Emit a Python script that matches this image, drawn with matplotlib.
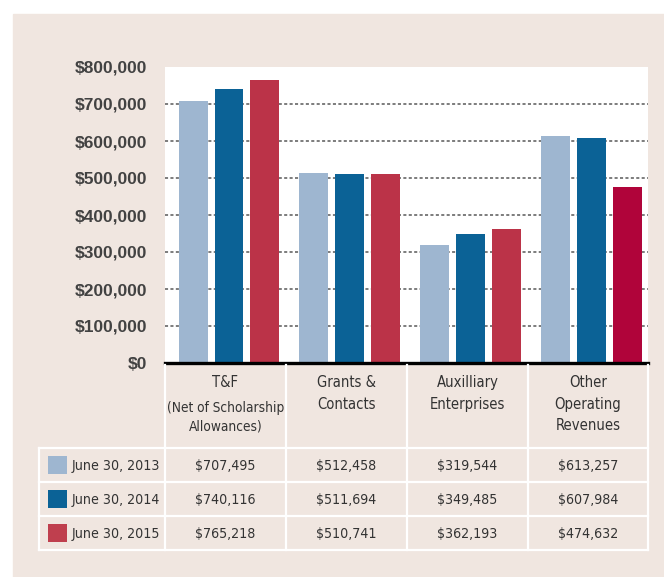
import os
import matplotlib
matplotlib.use('Agg')
import matplotlib.pyplot as plt
from matplotlib import font_manager
from matplotlib.patches import Rectangle
import numpy as np

# --- data ---
categories = ["T&F", "Grants &\nContacts", "Auxilliary\nEnterprises", "Other\nOperating\nRevenues"]
cat_notes = ["(Net of Scholarship\nAllowances)", "", "", ""]
series_names = ["June 30, 2013", "June 30, 2014", "June 30, 2015"]
fy2013 = [707495, 512458, 319544, 613257]
fy2014 = [740116, 511694, 349485, 607984]
fy2015 = [765218, 510741, 362193, 474632]
y_ticks = [0, 100000, 200000, 300000, 400000, 500000, 600000, 700000, 800000]

# --- style ---
W, H = 664, 577
BG = '#f0e6e0'
TXT = '#333333'
C13 = '#9eb6d0'
C14 = '#0b6296'
C15 = '#bb3348'
C15_bars = [C15, C15, C15, '#b0043a']  # last bar is a deeper red in the original


def narrow_font():
    # look for a condensed face on disk (Liberation Sans Narrow, DejaVu Sans Condensed)
    files = {os.path.basename(f.fname): f.fname for f in font_manager.fontManager.ttflist}
    if 'LiberationSansNarrow-Regular.ttf' in files:
        return font_manager.FontProperties(fname=files['LiberationSansNarrow-Regular.ttf']), 1.08
    if 'DejaVuSansCondensed.ttf' in files:
        return font_manager.FontProperties(fname=files['DejaVuSansCondensed.ttf']), 1.0
    return font_manager.FontProperties(family='Liberation Sans'), 0.95


NFONT, NSCALE = narrow_font()


def nprops(size):
    p = NFONT.copy()
    p.set_size(size * NSCALE)
    return p


# pixel layout
ax_left, ax_right, ax_top, ax_bottom = 165, 648, 67, 363
col_edges = [165, 286, 407, 528, 648]
row_edges = [363, 448, 482, 516, 550]
legend_left = 39

fig = plt.figure(figsize=(W / 100, H / 100), dpi=100)
fig.patch.set_facecolor('white')
fig.add_artist(Rectangle((13 / W, 0), 1 - 13 / W, (H - 14) / H,
                         transform=fig.transFigure, color=BG, zorder=0))

# --- bar chart ---
ax = fig.add_axes([ax_left / W, (H - ax_bottom) / H,
                   (ax_right - ax_left) / W, (ax_bottom - ax_top) / H])
ax.set_facecolor('white')
x = np.arange(len(categories)) + 0.5 + 0.03
bw, step = 0.24, 0.2975
ax.bar(x - step, fy2013, width=bw, color=C13, zorder=3)
ax.bar(x, fy2014, width=bw, color=C14, zorder=3)
ax.bar(x + step, fy2015, width=bw, color=C15_bars, zorder=3)
ax.set_xlim(0, len(categories))
ax.set_ylim(0, 800000)
ax.hlines(y_ticks[1:-1], 0, len(categories), colors='#727272', lw=1.3,
          linestyles=(0, (1.7, 1.3)), zorder=1)
ax.axhline(0, color='black', lw=2.4, zorder=4, clip_on=False)
for s in ax.spines.values():
    s.set_visible(False)
ax.set_xticks([])
ax.set_yticks(y_ticks)
tick_font = font_manager.FontProperties(family='Liberation Sans', weight='bold', size=12.5)
ax.set_yticklabels([f"${v:,}" for v in y_ticks], fontproperties=tick_font, color='#424242')
ax.tick_params(axis='y', length=0, pad=13)

# --- table below ---
tab = fig.add_axes([0, 0, 1, 1], zorder=5)
tab.set_xlim(0, W)
tab.set_ylim(H, 0)
tab.axis('off')

lw = 1.6
for xe in col_edges:
    tab.plot([xe, xe], [ax_bottom + 2, row_edges[-1]], color='white', lw=lw)
tab.plot([legend_left, legend_left], [row_edges[1], row_edges[-1]], color='white', lw=lw)
for ye in row_edges[1:]:
    tab.plot([legend_left, col_edges[-1]], [ye, ye], color='white', lw=lw)

centers = [(a + b) / 2 for a, b in zip(col_edges[:-1], col_edges[1:])]
for cx, cat, note in zip(centers, categories, cat_notes):
    tab.text(cx, 375, cat, ha='center', va='top', fontproperties=nprops(10.6),
             color=TXT, linespacing=1.56)
    if note:
        tab.text(cx, 401, note, ha='center', va='top', fontproperties=nprops(9.8),
                 color=TXT, linespacing=1.45)

rows = [fy2013, fy2014, fy2015]
swatches = [C13, C14, '#bf3f4e']
for r, (name, vals, sw) in enumerate(zip(series_names, rows, swatches)):
    cy = (row_edges[r + 1] + row_edges[r + 2]) / 2
    tab.add_patch(Rectangle((48, cy - 9), 19, 18, color=sw, lw=0))
    tab.text(72, cy + 1, name, ha='left', va='center', fontproperties=nprops(10.2), color=TXT)
    for cx, v in zip(centers, vals):
        tab.text(cx, cy + 1, f"${v:,}", ha='center', va='center',
                 fontproperties=nprops(10.2), color=TXT)

fig.savefig('out.png', dpi=100, facecolor=fig.get_facecolor())
